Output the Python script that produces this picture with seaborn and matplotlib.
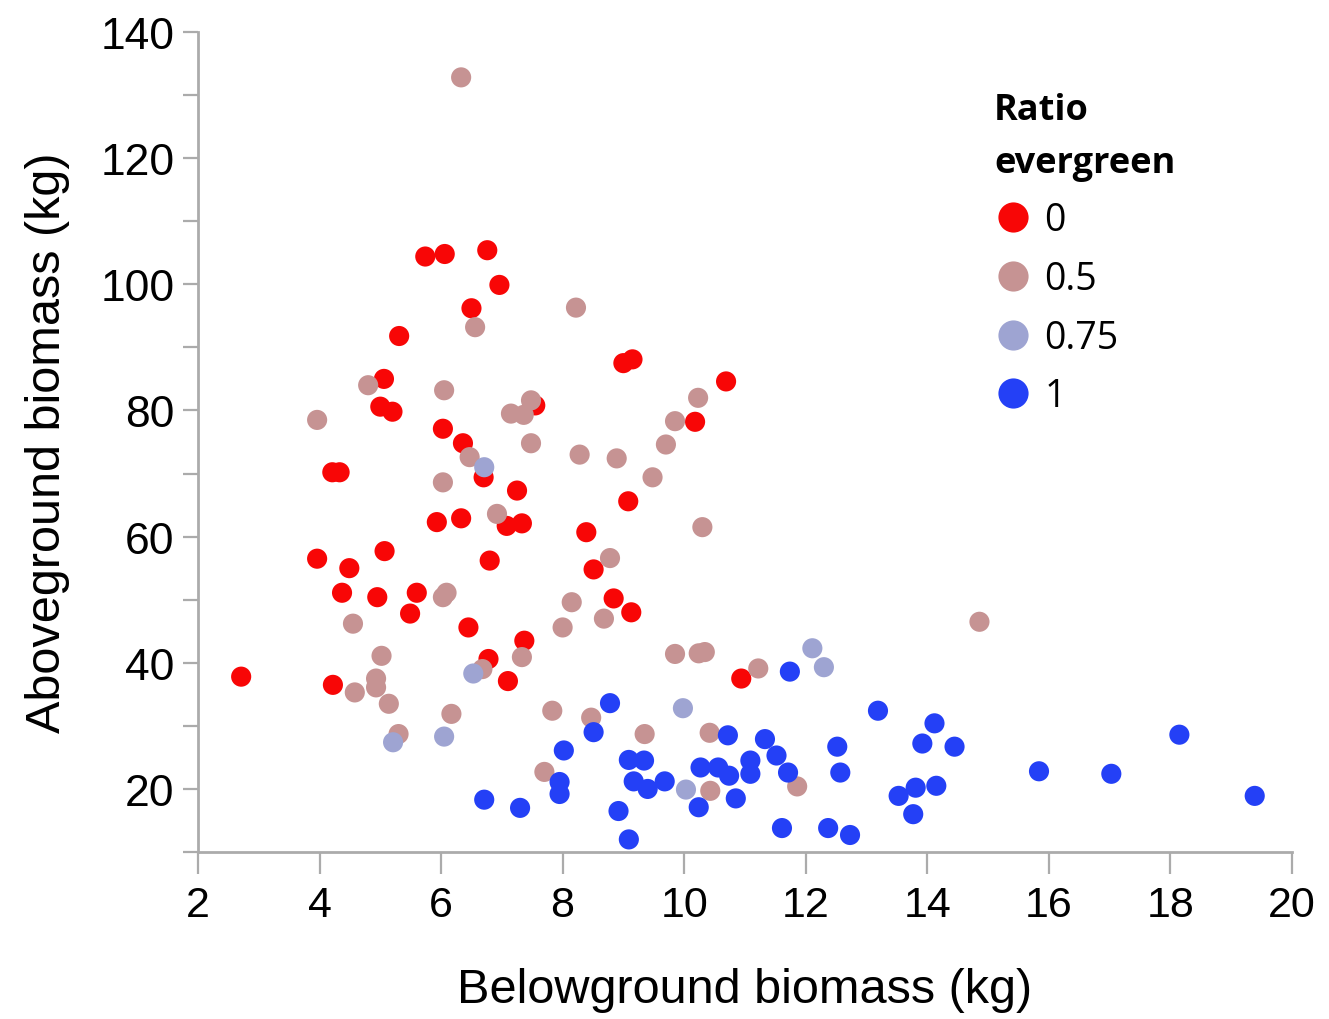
import numpy as np
import pandas as pd
import matplotlib
matplotlib.use("Agg")
import matplotlib.pyplot as plt
from matplotlib.ticker import MultipleLocator
import seaborn as sns

# ---- data ----
ratio_levels = ["0", "0.5", "0.75", "1"]

below_r0 = [2.71, 4.22, 3.96, 4.49, 5.07, 4.37, 4.95, 5.60, 5.49, 6.45, 6.78, 7.10, 7.37, 6.80,
            5.93, 6.33, 7.08, 7.33, 7.25, 6.70, 6.36, 6.03, 4.21, 4.33, 5.00, 5.20, 5.06, 5.31,
            6.50, 5.74, 6.06, 6.76, 6.96, 7.55, 8.39, 8.51, 8.84, 9.13, 9.08, 9.00, 9.15, 10.18,
            10.69, 10.94]
above_r0 = [37.8, 36.5, 56.5, 55.0, 57.7, 51.1, 50.4, 51.1, 47.8, 45.6, 40.6, 37.1, 43.5, 56.2,
            62.3, 62.9, 61.7, 62.1, 67.3, 69.4, 74.8, 77.1, 70.2, 70.2, 80.6, 79.8, 85.0, 91.8,
            96.2, 104.4, 104.8, 105.4, 99.9, 80.8, 60.7, 54.8, 50.2, 48.0, 65.6, 87.5, 88.1, 78.2,
            84.6, 37.5]

below_r05 = [6.33, 6.56, 8.22, 4.80, 6.05, 3.96, 7.15, 7.36, 7.48, 10.23, 9.85, 7.48, 8.28, 8.89,
             9.70, 9.48, 6.47, 6.03, 6.92, 10.30, 8.78, 6.03, 6.09, 4.55, 8.15, 8.68, 8.00, 7.33,
             6.68, 5.02, 4.58, 4.93, 4.93, 5.14, 9.85, 10.24, 10.34, 11.22, 14.86, 6.17, 7.83,
             5.30, 8.47, 9.35, 10.42, 7.70, 10.43, 11.86]
above_r05 = [132.8, 93.2, 96.3, 84.0, 83.2, 78.5, 79.5, 79.3, 81.6, 82.0, 78.3, 74.8, 73.0, 72.4,
             74.6, 69.4, 72.6, 68.6, 63.6, 61.5, 56.6, 50.4, 51.1, 46.2, 49.6, 47.0, 45.6, 40.9,
             39.0, 41.1, 35.3, 37.5, 36.1, 33.5, 41.4, 41.5, 41.7, 39.1, 46.5, 31.9, 32.4,
             28.7, 31.3, 28.7, 28.9, 22.7, 19.7, 20.4]

below_r075 = [6.71, 6.53, 5.21, 6.05, 9.98, 10.03, 12.11, 12.30]
above_r075 = [71.0, 38.3, 27.4, 28.3, 32.8, 19.9, 42.3, 39.3]

below_r1 = [8.78, 8.51, 10.72, 8.02, 7.95, 7.95, 6.71, 7.30, 9.09, 9.34, 9.17, 9.40, 9.68, 10.24,
            10.85, 8.92, 9.09, 10.27, 10.56, 10.74, 11.09, 11.09, 11.74, 13.19, 14.12, 13.92,
            14.45, 11.33, 12.52, 11.52, 11.71, 12.57, 15.84, 17.03, 18.15, 19.39, 13.53, 13.81,
            14.15, 13.77, 11.61, 12.37, 12.73]
above_r1 = [33.6, 29.0, 28.5, 26.1, 21.1, 19.2, 18.3, 17.0, 24.6, 24.5, 21.2, 20.0, 21.2, 17.1,
            18.5, 16.5, 12.0, 23.4, 23.4, 22.1, 24.5, 22.4, 38.6, 32.4, 30.4, 27.2,
            26.7, 27.9, 26.7, 25.3, 22.6, 22.6, 22.8, 22.4, 28.6, 18.9, 18.9, 20.2,
            20.5, 16.0, 13.8, 13.8, 12.7]

x_ticks = [2, 4, 6, 8, 10, 12, 14, 16, 18, 20]
y_ticks = [20, 40, 60, 80, 100, 120, 140]

# ---- table ----
frames = []
for lvl, bx, ay in zip(ratio_levels,
                       [below_r0, below_r05, below_r075, below_r1],
                       [above_r0, above_r05, above_r075, above_r1]):
    frames.append(pd.DataFrame({"below": bx, "above": ay, "ratio": lvl}))
df = pd.concat(frames, ignore_index=True)

palette = {"0": "#F80606", "0.5": "#C69393", "0.75": "#9EA4D2", "1": "#2440F6"}

# ---- style ----
sns.set_theme(style="white")
plt.rcParams["font.family"] = ["Liberation Sans Narrow", "Liberation Sans", "DejaVu Sans"]
plt.rcParams["text.color"] = "black"
plt.rcParams["axes.labelcolor"] = "black"
plt.rcParams["xtick.labelcolor"] = "black"
plt.rcParams["ytick.labelcolor"] = "black"

fig = plt.figure(figsize=(13.29, 10.20), dpi=100)
ax = fig.add_axes([0.149, 0.1637, 0.823, 0.804])

sns.scatterplot(data=df, x="below", y="above", hue="ratio", hue_order=ratio_levels,
                palette=palette, s=210, linewidth=0, alpha=1, ax=ax, legend=True)

ax.set_xlim(2, 20)
ax.set_ylim(10, 140)
ax.set_xticks(x_ticks)
ax.set_yticks(y_ticks)
ax.yaxis.set_minor_locator(MultipleLocator(10))

for side in ["top", "right"]:
    ax.spines[side].set_visible(False)
for side in ["left", "bottom"]:
    ax.spines[side].set_color("#ABABAB")
    ax.spines[side].set_linewidth(2)

ax.tick_params(axis="y", which="both", direction="out", length=11, width=1.6,
               color="#ABABAB", labelsize=32, left=True, pad=6, labelcolor="black")
ax.tick_params(axis="x", which="major", direction="out", length=16, width=1.6,
               color="#ABABAB", labelsize=31, bottom=True, pad=8, labelcolor="black")

ax.set_xlabel("Belowground biomass (kg)", fontsize=35, labelpad=30, color="black")
ax.set_ylabel("Aboveground biomass (kg)", fontsize=35, labelpad=22, color="black")

# legend
handles, labels = ax.get_legend_handles_labels()
leg = ax.legend(handles, labels, title="Ratio\nevergreen", loc="upper left",
                bbox_to_anchor=(0.714, 0.945), frameon=False, markerscale=1.5,
                handlelength=1.0, handletextpad=0.35, labelspacing=0.55,
                borderaxespad=0,
                prop={"family": ["Open Sans", "DejaVu Sans"], "size": 27},
                title_fontproperties={"family": ["Open Sans", "DejaVu Sans"],
                                      "size": 26, "weight": "bold"})
leg._legend_box.align = "left"
leg.get_title().set_linespacing(1.62)
leg.get_title().set_color("black")
for t in leg.get_texts():
    t.set_color("black")

fig.savefig("out.png", dpi=100, facecolor="white")
